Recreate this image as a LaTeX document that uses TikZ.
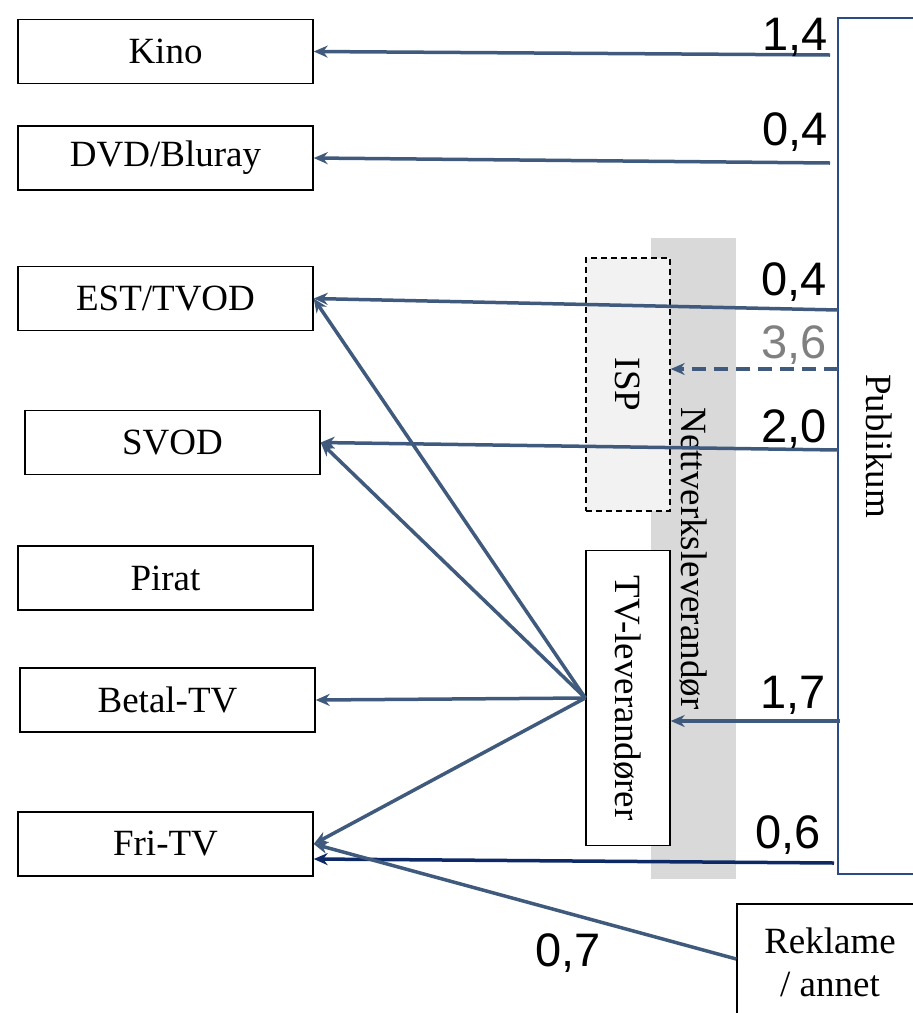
\documentclass[tikz,border=0pt]{standalone}
\usepackage{fontspec}
\setmainfont{Liberation Serif}
\newfontfamily\numfont{Liberation Sans}
\usepackage{graphicx}
\usetikzlibrary{arrows.meta}
\definecolor{flowblue}{HTML}{3F5A7D}
\definecolor{navyflow}{HTML}{0E2A66}
\definecolor{pubblue}{HTML}{2B4A88}
\definecolor{bandgrey}{HTML}{D9D9D9}
\definecolor{ispgrey}{HTML}{F2F2F2}
\definecolor{numgrey}{HTML}{808080}
\begin{document}
\begin{tikzpicture}[x=1pt, y=-1pt, >={Stealth[length=14pt,width=12pt]},
    box/.style={draw, line width=1.4pt, fill=white, minimum width=295pt, minimum height=64pt,
      inner sep=0pt, font=\fontsize{37}{43}\selectfont},
    flow/.style={->, draw=flowblue, line width=3.5pt},
    num/.style={anchor=base east, inner sep=0pt, font=\numfont\fontsize{47}{52}\selectfont}]
    \useasboundingbox (0,0) rectangle (913,1013);
    % distribution channels on the left
    \node[box] (kino) at (165.5,51.5) {Kino};
    \node[box] (dvd) at (165.5,158) {DVD/Bluray};
    \node[box] (est) at (165.5,298.5) {EST/TVOD};
    \node[box] (svod) at (172.5,442.5) {SVOD};
    \node[box] (pirat) at (165.5,578) {Pirat};
    \node[box] (betal) at (167.5,700) {Betal-TV};
    \node[box] (fritv) at (165.5,844) {Fri-TV};
    % network band, ISP and TV providers
    \node[fill=bandgrey, minimum width=85pt, minimum height=641pt, inner sep=0pt,
      font=\fontsize{37}{43}\selectfont] (nett) at (693.5,558.5) {\rotatebox{-90}{Nettverksleverandør}};
    \node[box, dash pattern=on 6pt off 4pt, fill=ispgrey, minimum width=84pt, minimum height=253pt] (isp) at (628,384.5) {\rotatebox{-90}{ISP}};
    \node[box, minimum width=84pt, minimum height=295pt] (tvlev) at (628,698) {\rotatebox{-90}{TV-leverandører}};
    % audience and advertising
    \node[draw=pubblue, line width=1.6pt, minimum width=82pt, minimum height=856pt, inner sep=0pt,
      font=\fontsize{37}{43}\selectfont] (pub) at (879,446) {\rotatebox{-90}{Publikum}};
    \node[box, minimum width=186pt, minimum height=116pt, align=center] (reklame) at (830,962) {Reklame\\/ annet};
    % start points on the audience box
    \coordinate (s1) at (830,55);
    \coordinate (s2) at (830,163);
    \coordinate (s3) at (838,310);
    \coordinate (s4) at (838,369);
    \coordinate (s5) at (838,450);
    \coordinate (s6) at (840,721);
    \coordinate (s7) at (834,863);
    \draw[flow] (s1) -- (kino.east);
    \draw[flow] (s2) -- (dvd.east);
    \draw[flow] (s3) -- (est.east);
    \draw[flow, dash pattern=on 14pt off 8pt] (s4) -- (s4 -| isp.east);
    \draw[flow] (s5) -- (svod.east);
    \draw[flow] (s6) -- (s6 -| tvlev.east);
    \draw[flow, draw=navyflow] (s7) -- ([yshift=-15pt]fritv.east);
    % TV providers to channels
    \draw[flow] (tvlev.west) -- (est.east);
    \draw[flow] (tvlev.west) -- (svod.east);
    \draw[flow] (tvlev.west) -- (betal.east);
    \draw[flow] (tvlev.west) -- (fritv.east);
    \draw[flow] ([yshift=3pt]reklame.west) -- (fritv.east);
    % amounts
    \node[num] (n1) at (828,50) {1,4};
    \node[num] (n2) at (828,145) {0,4};
    \node[num] (n3) at (827,295) {0,4};
    \node[num, text=numgrey] (n4) at (827,358) {3,6};
    \node[num] (n5) at (827,442) {2,0};
    \node[num] (n6) at (826,708) {1,7};
    \node[num] (n7) at (821,848) {0,6};
    \node[num] (n8) at (601,966) {0,7};
\end{tikzpicture}
\end{document}
